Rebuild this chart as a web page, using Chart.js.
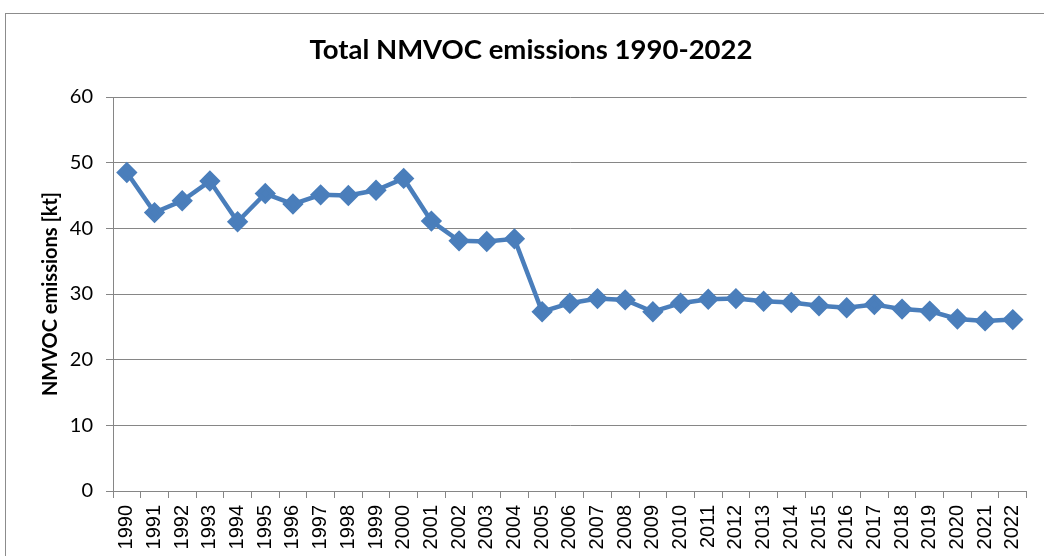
<!DOCTYPE html>
<html>
<head>
<meta charset="utf-8">
<script src="https://cdn.jsdelivr.net/npm/chart.js@4/dist/chart.umd.min.js"></script>
<style>
  body { margin: 0; background: #fff; overflow: hidden; }
  #wrap { position: relative; width: 1044px; height: 556px; }
  #frame { position: absolute; left: 5px; top: 13px; width: 1100px; height: 600px; border: 1px solid #8c8c8c; }
  canvas { position: absolute; left: 0; top: 0; }
</style>
</head>
<body>
<div id="wrap">
  <div id="frame"></div>
  <canvas id="chart" width="1044" height="556"></canvas>
</div>
<script>
const years = [];
for (let y = 1990; y <= 2022; y++) years.push(String(y));

const emissions = [
  48.5, 42.4, 44.2, 47.2, 41.0, 45.3, 43.7, 45.1, 45.0, 45.8, 47.6,
  41.1, 38.1, 38.0, 38.4, 27.3, 28.6, 29.3, 29.1, 27.3, 28.6, 29.2,
  29.3, 28.9, 28.7, 28.2, 27.9, 28.4, 27.7, 27.4, 26.2, 25.9, 26.1
];

const yTicks = [0, 10, 20, 30, 40, 50, 60];

const blue = "#4a7ebb";
const gridGray = "#868686";

new Chart(document.getElementById("chart"), {
  type: "line",
  data: {
    labels: years,
    datasets: [{
      label: "NMVOC",
      data: emissions,
      borderColor: blue,
      backgroundColor: blue,
      borderWidth: 4.5,
      pointStyle: "rectRot",
      pointRadius: 7.5,
      pointHoverRadius: 7.5,
      tension: 0,
    }],
  },
  options: {
    responsive: false,
    animation: false,
    layout: { padding: { left: 32, right: 14, top: 0, bottom: 0 } },
    plugins: {
      legend: { display: false },
      tooltip: { enabled: false },
      title: {
        display: true,
        text: "Total NMVOC emissions 1990-2022",
        color: "#000",
        font: { family: "Lato", size: 27.5, weight: "bold" },
        padding: { top: 34, bottom: 30 },
      },
    },
    scales: {
      x: {
        offset: true,
        grid: {
          offset: true,
          drawOnChartArea: false,
          drawTicks: true,
          tickLength: 7,
          color: gridGray,
        },
        border: { color: gridGray },
        ticks: {
          color: "#000",
          minRotation: 90,
          maxRotation: 90,
          autoSkip: false,
          padding: 7,
          font: { family: "Liberation Sans", size: 20 },
        },
        afterFit: (scale) => { scale.height = 65; },
      },
      y: {
        min: 0,
        max: 60,
        afterBuildTicks: (scale) => {
          scale.ticks = yTicks.map((v) => ({ value: v }));
        },
        grid: {
          color: gridGray,
          tickLength: 7,
        },
        border: { color: gridGray },
        ticks: {
          color: "#000",
          padding: 13,
          font: { family: "Lato", size: 20 },
        },
        title: {
          display: true,
          text: "NMVOC emissions [kt]",
          color: "#000",
          font: { family: "Lato", size: 20, weight: "bold" },
          padding: { top: 7, bottom: 0 },
        },
        afterFit: (scale) => { scale.width = 81; },
      },
    },
  },
});
</script>
</body>
</html>
